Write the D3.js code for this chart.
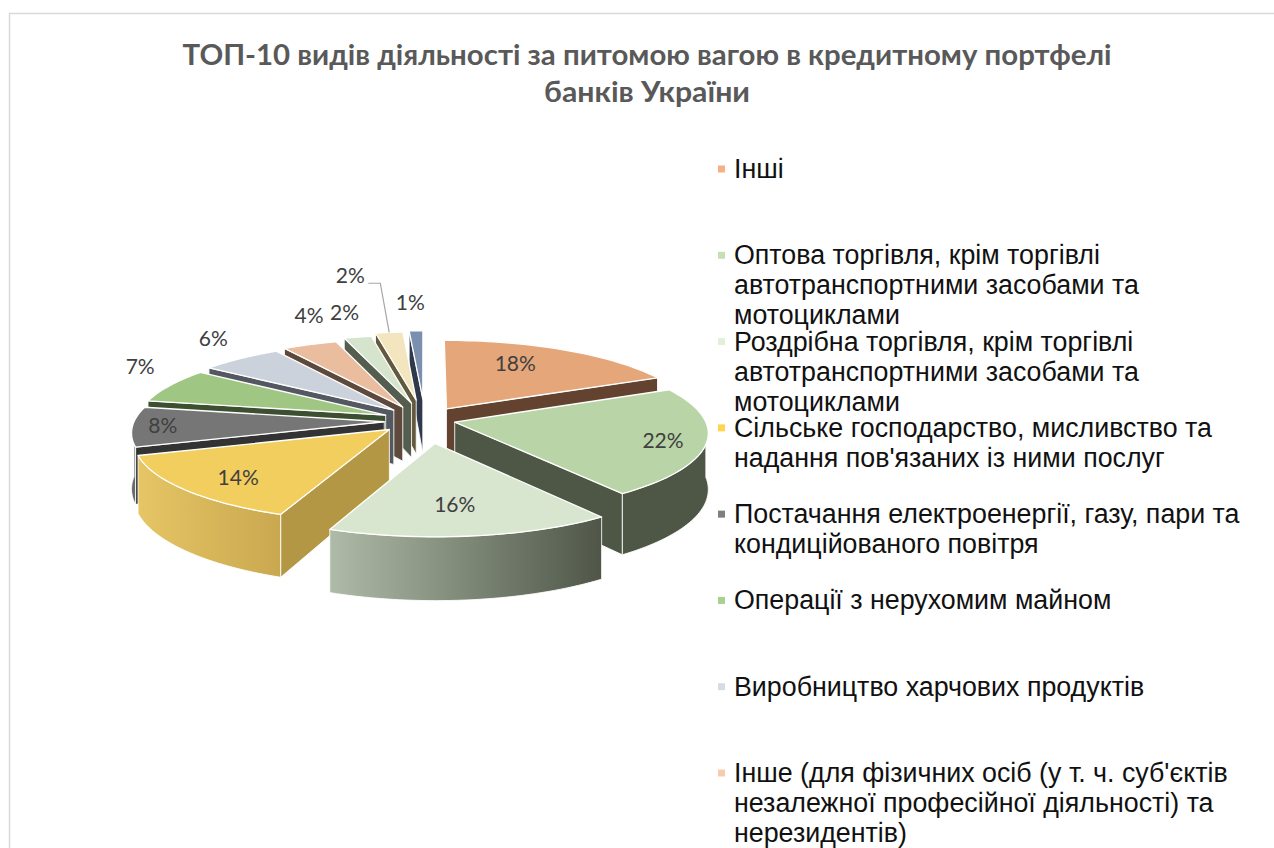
<!DOCTYPE html>
<html>
<head>
<meta charset="utf-8">
<script src="https://cdn.jsdelivr.net/npm/d3@7"></script>
<style>
    body { margin: 0; background: #fff; overflow: hidden; }
    svg { display: block; }
</style>
</head>
<body>
<div id="chart"></div>
<script>
// shares in percent, clockwise from 12 o'clock
var shares = [18, 22, 16, 14, 8, 7, 6, 4, 2, 2, 1];
var titleLines = ["ТОП-10 видів діяльності за питомою вагою в кредитному портфелі", "банків України"];
var legendLabels = [
    ["Інші"],
    ["Оптова торгівля, крім торгівлі", "автотранспортними засобами та", "мотоциклами"],
    ["Роздрібна торгівля, крім торгівлі", "автотранспортними засобами та", "мотоциклами"],
    ["Сільське господарство, мисливство та", "надання пов'язаних із ними послуг"],
    ["Постачання електроенергії, газу, пари та", "кондиційованого повітря"],
    ["Операції з нерухомим майном"],
    ["Виробництво харчових продуктів"],
    ["Інше (для фізичних осіб (у т. ч. суб'єктів", "незалежної професійної діяльності) та", "нерезидентів)"]
];
var topColors = ["#E5A67A", "#B9D4A6", "#D8E5CF", "#F2CE5E", "#767676", "#A0C684", "#CBD2DC", "#E9BD9E", "#D6E4CD", "#F3E6BF", "#7B8FAF"];
var sideColors = ["#63432F", "#4E5746", "#4F5648", "#B39744", "#333333", "#3C4F30", "#545860", "#5E4A3C", "#555E4E", "#63593C", "#2E3A4C"];
var wallLeft = ["#63432F", "#4E5746", "#AEBBA7", "#E6C565", "#6A6A6A", "#3C4F30", "#545860", "#5E4A3C", "#555E4E", "#63593C", "#2E3A4C"];
var wallRight = ["#63432F", "#4E5746", "#4F5648", "#C9A850", "#6A6A6A", "#3C4F30", "#545860", "#5E4A3C", "#555E4E", "#63593C", "#2E3A4C"];
var legendColors = ["#F4B183", "#C5E0B4", "#E2EFDA", "#FFD54F", "#7F7F7F", "#A9D18E", "#D6DCE5", "#F8CBAD"];
// extra pull of each slice beyond the common explosion, px
var sliceShift = [[9, 0], [0, 0], [13, 12], [1, 2], [6, 2], [4, 1], [3, 0], [2, -1], [4, -4], [4, -7], [7, -8]];
// label placement: radius as a share of the pie radius, plus a nudge in pixels
var labelRadius = [0.62, 0.8, 0.62, 0.72, 0.86, 1.13, 1.13, 1.13, 1.13, 1.12, 1.12];
var labelShift = [[-7, -7], [8, 3], [-2, 7], [-8, 6], [-5, 0], [-3, -15], [-9, -13], [10, -21], [-7, -16], [-36, -49], [-5, -21]];

function init() {
    var w = 1274;
    var h = 848;

    var cx = 417;
    var cy = 419;
    var rx = 250;
    var ry = 79;
    var persp = 0.12;
    var depth = 55;
    var explode = 0.155;

    var svg = d3.select("#chart")
                .append("svg")
                .attr("width", w)
                .attr("height", h);

    var defs = svg.append("defs");

    //frame
    svg.append("path")
        .attr("d", "M9.5," + h + "V13.5H" + w)
        .attr("fill", "none")
        .attr("stroke", "#D9D9D9")
        .attr("stroke-width", 1.5);

    //title
    svg.selectAll(".title")
        .data(titleLines)
        .enter().append("text")
        .attr("class", "title")
        .attr("x", 647)
        .attr("y", function(d, i) { return 65 + i * 37; })
        .attr("text-anchor", "middle")
        .attr("font-family", "Lato, 'Open Sans', sans-serif")
        .attr("font-weight", 700)
        .attr("font-size", 29)
        .attr("fill", "#595959")
        .attr("textLength", function(d, i) { return i == 0 ? 929 : 206; })
        .attr("lengthAdjust", "spacingAndGlyphs")
        .text(function(d) { return d; });

    //plane coords to screen, z goes down from the top face
    function project(X, Y, z) {
        var s = 1 / (1 - persp * Y);
        return [cx + rx * X * s, cy + ry * Y * s + z * depth * s];
    }

    var pie = d3.pie().sort(null).value(function(d) { return d; });
    var arcs = pie(shares);

    var poly = d3.line().x(function(p) { return p[0]; }).y(function(p) { return p[1]; });

    function slicePoint(arc, a, r, z) {
        var mid = (arc.startAngle + arc.endAngle) / 2;
        var ox = explode * Math.sin(mid);
        var oy = -explode * Math.cos(mid);
        var p = project(ox + r * Math.sin(a), oy - r * Math.cos(a), z);
        return [p[0] + sliceShift[arc.index][0], p[1] + sliceShift[arc.index][1]];
    }

    function rimAngles(a0, a1) {
        return d3.range(0, 41).map(function(i) { return a0 + (a1 - a0) * i / 40; });
    }

    function facesFront(b) { return Math.cos(b) < 0; }

    //back slices first so the nearer ones cover them
    var order = d3.range(arcs.length).sort(function(p, q) {
        var mp = (arcs[p].startAngle + arcs[p].endAngle) / 2;
        var mq = (arcs[q].startAngle + arcs[q].endAngle) / 2;
        return d3.descending(Math.cos(mp), Math.cos(mq));
    });

    var pieG = svg.append("g");

    order.forEach(function(i) {
        var arc = arcs[i];
        var g = pieG.append("g");

        //cut faces
        [[arc.startAngle, arc.startAngle - Math.PI / 2], [arc.endAngle, arc.endAngle + Math.PI / 2]].forEach(function(e) {
            if (!facesFront(e[1])) return;
            var pts = [slicePoint(arc, e[0], 0, 0), slicePoint(arc, e[0], 1, 0), slicePoint(arc, e[0], 1, 1), slicePoint(arc, e[0], 0, 1)];
            g.append("path")
                .attr("d", poly(pts) + "Z")
                .attr("fill", sideColors[i])
                .attr("stroke", "#fff")
                .attr("stroke-opacity", 0.85)
                .attr("stroke-width", 1);
        });

        //outer wall, only the part turned to the viewer
        var a0 = Math.max(arc.startAngle, Math.PI / 2);
        var a1 = Math.min(arc.endAngle, Math.PI * 1.5);
        if (a1 > a0) {
            var angles = rimAngles(a0, a1);
            var top = angles.map(function(a) { return slicePoint(arc, a, 1, 0); });
            var bottom = angles.map(function(a) { return slicePoint(arc, a, 1, 1); }).reverse();
            var xs = d3.extent(top.concat(bottom), function(p) { return p[0]; });
            var grad = defs.append("linearGradient")
                .attr("id", "wall" + i)
                .attr("gradientUnits", "userSpaceOnUse")
                .attr("x1", xs[0]).attr("x2", xs[1])
                .attr("y1", 0).attr("y2", 0);
            grad.append("stop").attr("offset", 0).attr("stop-color", wallLeft[i]);
            grad.append("stop").attr("offset", 1).attr("stop-color", wallRight[i]);
            g.append("path")
                .attr("d", poly(top.concat(bottom)) + "Z")
                .attr("fill", "url(#wall" + i + ")")
                .attr("stroke", "#fff")
                .attr("stroke-opacity", 0.85)
                .attr("stroke-width", 1);
        }

        //top face
        var topPts = [slicePoint(arc, arc.startAngle, 0, 0)]
            .concat(rimAngles(arc.startAngle, arc.endAngle).map(function(a) { return slicePoint(arc, a, 1, 0); }));
        g.append("path")
            .attr("d", poly(topPts) + "Z")
            .attr("fill", topColors[i])
            .attr("stroke", "#fff")
            .attr("stroke-width", 1.3)
            .attr("stroke-linejoin", "round");
    });

    //percent labels
    var labelPos = arcs.map(function(arc, i) {
        var mid = (arc.startAngle + arc.endAngle) / 2;
        var p = slicePoint(arc, mid, labelRadius[i], 0);
        return [p[0] + labelShift[i][0], p[1] + labelShift[i][1]];
    });

    //leader line of the small label that sits far from its slice
    var ledIndex = 9;
    var ledMid = (arcs[ledIndex].startAngle + arcs[ledIndex].endAngle) / 2;
    var ledEnd = slicePoint(arcs[ledIndex], ledMid, 1, 0);
    svg.append("path")
        .attr("d", poly([
            [labelPos[ledIndex][0] + 18, labelPos[ledIndex][1] + 7],
            [labelPos[ledIndex][0] + 30, labelPos[ledIndex][1] + 7],
            ledEnd
        ]))
        .attr("fill", "none")
        .attr("stroke", "#A6A6A6")
        .attr("stroke-width", 1.2);

    svg.selectAll(".pct")
        .data(arcs)
        .enter().append("text")
        .attr("class", "pct")
        .attr("x", function(d, i) { return labelPos[i][0]; })
        .attr("y", function(d, i) { return labelPos[i][1] + 7; })
        .attr("text-anchor", "middle")
        .attr("font-family", "Lato, 'Open Sans', sans-serif")
        .attr("font-size", 21)
        .attr("fill", "#404040")
        .text(function(d) { return d.data + "%"; });

    //legend
    var legendY = d3.scaleLinear().domain([0, 7]).range([169, 773]);
    var legend = svg.selectAll(".legend")
        .data(legendLabels)
        .enter().append("g")
        .attr("class", "legend")
        .attr("transform", function(d, i) { return "translate(0," + legendY(i) + ")"; });

    legend.append("rect")
        .attr("x", 718)
        .attr("y", -3.5)
        .attr("width", 7)
        .attr("height", 7)
        .attr("fill", function(d, i) { return legendColors[i]; });

    legend.selectAll("text")
        .data(function(d) { return d; })
        .enter().append("text")
        .attr("x", 734)
        .attr("y", function(d, i) { return 9 + i * 30; })
        .attr("font-family", "'Liberation Sans', Arial, sans-serif")
        .attr("font-size", 26.8)
        .attr("fill", "#111")
        .text(function(d) { return d; });
}
window.onload = init;
</script>
</body>
</html>
